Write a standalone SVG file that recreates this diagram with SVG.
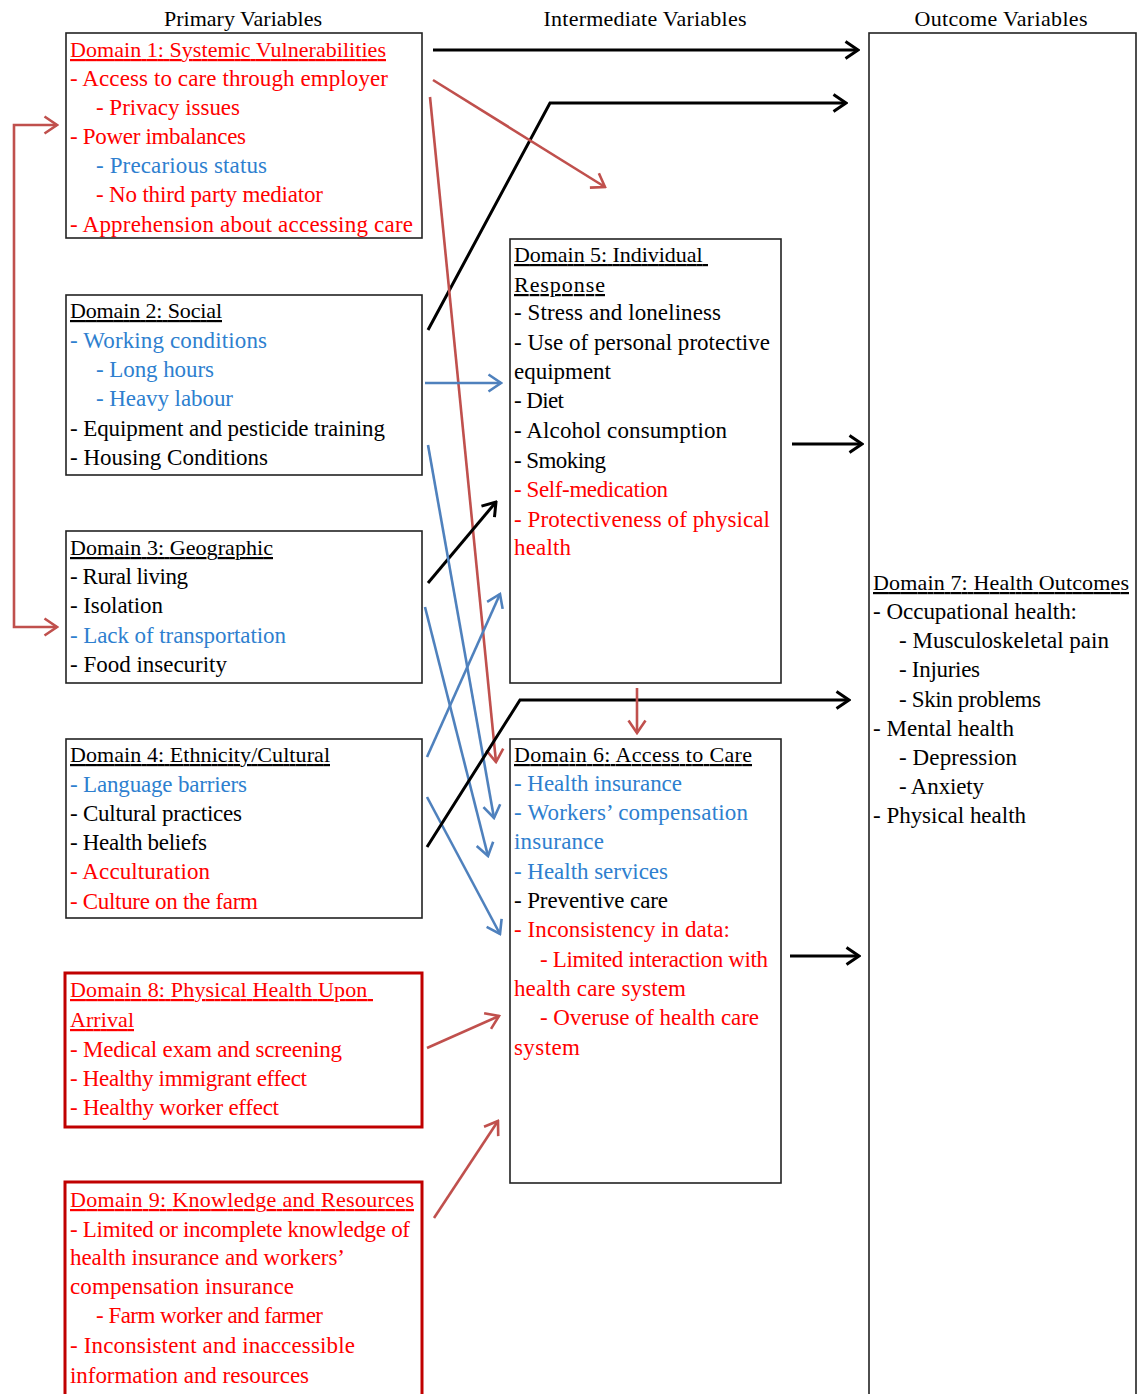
<svg xmlns="http://www.w3.org/2000/svg" width="1141" height="1394" viewBox="0 0 1141 1394">
<style>
text{font-family:"Liberation Serif","Times New Roman",serif;font-size:23px;fill:#000;white-space:pre}
.h{font-size:22px;text-anchor:middle}
.r{fill:#ff0000}
.b{fill:#2e7fcf}
.u{text-decoration:underline;font-size:22px}
.box{fill:#fff;stroke:#222;stroke-width:1.6}
.rbox{fill:#fff;stroke:#c00000;stroke-width:3}
.ck{fill:none;stroke:#000;stroke-width:3}
.cr{fill:none;stroke:#c0504d;stroke-width:2.6}
.cb{fill:none;stroke:#4f81bd;stroke-width:2.6}
</style>
<defs>
<marker id="ak" viewBox="0 0 16 20" markerWidth="16" markerHeight="20" refX="14" refY="10" orient="auto" markerUnits="userSpaceOnUse"><path d="M1.5,1.5 L14,10 L1.5,18.5" fill="none" stroke="#000" stroke-width="3"/></marker>
<marker id="ar" viewBox="0 0 16 20" markerWidth="16" markerHeight="20" refX="14" refY="10" orient="auto" markerUnits="userSpaceOnUse"><path d="M1.5,1.5 L14,10 L1.5,18.5" fill="none" stroke="#c0504d" stroke-width="2.6"/></marker>
<marker id="ab" viewBox="0 0 16 20" markerWidth="16" markerHeight="20" refX="14" refY="10" orient="auto" markerUnits="userSpaceOnUse"><path d="M1.5,1.5 L14,10 L1.5,18.5" fill="none" stroke="#4f81bd" stroke-width="2.6"/></marker>
</defs>
<rect width="1141" height="1394" fill="#fff"/>

<g id="headers">
<text class="h" x="243" y="26" textLength="158" lengthAdjust="spacing">Primary Variables</text>
<text class="h" x="645" y="26" textLength="203" lengthAdjust="spacing">Intermediate Variables</text>
<text class="h" x="1001" y="26" textLength="173" lengthAdjust="spacing">Outcome Variables</text>
</g>

<g id="domain1">
<rect class="box" x="66" y="33" width="356" height="205"/>
<text class="r u" x="70" y="57" textLength="316" lengthAdjust="spacing">Domain 1: Systemic Vulnerabilities</text>
<text class="r" x="70" y="86" textLength="318" lengthAdjust="spacing">- Access to care through employer</text>
<text class="r" x="96" y="115" textLength="144" lengthAdjust="spacing">- Privacy issues</text>
<text class="r" x="70" y="144" textLength="176" lengthAdjust="spacing">- Power imbalances</text>
<text class="b" x="96" y="173" textLength="171" lengthAdjust="spacing">- Precarious status</text>
<text class="r" x="96" y="202" textLength="227" lengthAdjust="spacing">- No third party mediator</text>
<text class="r" x="70" y="232" textLength="343" lengthAdjust="spacing">- Apprehension about accessing care</text>
</g>

<g id="domain2">
<rect class="box" x="66" y="295" width="356" height="180"/>
<text class="u" x="70" y="318" textLength="152" lengthAdjust="spacing">Domain 2: Social</text>
<text class="b" x="70" y="348" textLength="197" lengthAdjust="spacing">- Working conditions</text>
<text class="b" x="96" y="377" textLength="118" lengthAdjust="spacing">- Long hours</text>
<text class="b" x="96" y="406" textLength="137" lengthAdjust="spacing">- Heavy labour</text>
<text x="70" y="436" textLength="315" lengthAdjust="spacing">- Equipment and pesticide training</text>
<text x="70" y="465" textLength="198" lengthAdjust="spacing">- Housing Conditions</text>
</g>

<g id="domain3">
<rect class="box" x="66" y="531" width="356" height="152"/>
<text class="u" x="70" y="555" textLength="203" lengthAdjust="spacing">Domain 3: Geographic</text>
<text x="70" y="584" textLength="118" lengthAdjust="spacing">- Rural living</text>
<text x="70" y="613" textLength="93" lengthAdjust="spacing">- Isolation</text>
<text class="b" x="70" y="643" textLength="216" lengthAdjust="spacing">- Lack of transportation</text>
<text x="70" y="672" textLength="157" lengthAdjust="spacing">- Food insecurity</text>
</g>

<g id="domain4">
<rect class="box" x="66" y="739" width="356" height="179"/>
<text class="u" x="70" y="762" textLength="260" lengthAdjust="spacing">Domain 4: Ethnicity/Cultural</text>
<text class="b" x="70" y="792" textLength="177" lengthAdjust="spacing">- Language barriers</text>
<text x="70" y="821" textLength="172" lengthAdjust="spacing">- Cultural practices</text>
<text x="70" y="850" textLength="137" lengthAdjust="spacing">- Health beliefs</text>
<text class="r" x="70" y="879" textLength="140" lengthAdjust="spacing">- Acculturation</text>
<text class="r" x="70" y="909" textLength="188" lengthAdjust="spacing">- Culture on the farm</text>
</g>

<g id="domain8">
<rect class="rbox" x="65" y="973" width="357" height="154"/>
<text class="r u" x="70" y="997" textLength="303" lengthAdjust="spacing">Domain 8: Physical Health Upon </text>
<text class="r u" x="70" y="1027" textLength="64" lengthAdjust="spacing">Arrival</text>
<text class="r" x="70" y="1057" textLength="272" lengthAdjust="spacing">- Medical exam and screening</text>
<text class="r" x="70" y="1086" textLength="237" lengthAdjust="spacing">- Healthy immigrant effect</text>
<text class="r" x="70" y="1115" textLength="209" lengthAdjust="spacing">- Healthy worker effect</text>
</g>

<g id="domain9">
<rect class="rbox" x="65" y="1182" width="357" height="230"/>
<text class="r u" x="70" y="1207" textLength="344" lengthAdjust="spacing">Domain 9: Knowledge and Resources</text>
<text class="r" x="70" y="1237" textLength="340" lengthAdjust="spacing">- Limited or incomplete knowledge of</text>
<text class="r" x="70" y="1265" textLength="275" lengthAdjust="spacing">health insurance and workers’</text>
<text class="r" x="70" y="1294" textLength="224" lengthAdjust="spacing">compensation insurance</text>
<text class="r" x="96" y="1323" textLength="227" lengthAdjust="spacing">- Farm worker and farmer</text>
<text class="r" x="70" y="1353" textLength="285" lengthAdjust="spacing">- Inconsistent and inaccessible</text>
<text class="r" x="70" y="1383" textLength="239" lengthAdjust="spacing">information and resources</text>
</g>

<g id="domain5">
<rect class="box" x="510" y="239" width="271" height="444"/>
<text class="u" x="514" y="262" textLength="194" lengthAdjust="spacing">Domain 5: Individual </text>
<text class="u" x="514" y="292" textLength="91" lengthAdjust="spacing">Response</text>
<text x="514" y="320" textLength="207" lengthAdjust="spacing">- Stress and loneliness</text>
<text x="514" y="350" textLength="256" lengthAdjust="spacing">- Use of personal protective</text>
<text x="514" y="379" textLength="97" lengthAdjust="spacing">equipment</text>
<text x="514" y="408" textLength="50" lengthAdjust="spacing">- Diet</text>
<text x="514" y="438" textLength="213" lengthAdjust="spacing">- Alcohol consumption</text>
<text x="514" y="468" textLength="92" lengthAdjust="spacing">- Smoking</text>
<text class="r" x="514" y="497" textLength="154" lengthAdjust="spacing">- Self-medication</text>
<text class="r" x="514" y="527" textLength="256" lengthAdjust="spacing">- Protectiveness of physical</text>
<text class="r" x="514" y="555" textLength="57" lengthAdjust="spacing">health</text>
</g>

<g id="domain6">
<rect class="box" x="510" y="739" width="271" height="444"/>
<text class="u" x="514" y="762" textLength="238" lengthAdjust="spacing">Domain 6: Access to Care</text>
<text class="b" x="514" y="791" textLength="168" lengthAdjust="spacing">- Health insurance</text>
<text class="b" x="514" y="820" textLength="234" lengthAdjust="spacing">- Workers’ compensation</text>
<text class="b" x="514" y="849" textLength="90" lengthAdjust="spacing">insurance</text>
<text class="b" x="514" y="879" textLength="154" lengthAdjust="spacing">- Health services</text>
<text x="514" y="908" textLength="154" lengthAdjust="spacing">- Preventive care</text>
<text class="r" x="514" y="937" textLength="216" lengthAdjust="spacing">- Inconsistency in data:</text>
<text class="r" x="540" y="967" textLength="228" lengthAdjust="spacing">- Limited interaction with</text>
<text class="r" x="514" y="996" textLength="172" lengthAdjust="spacing">health care system</text>
<text class="r" x="540" y="1025" textLength="219" lengthAdjust="spacing">- Overuse of health care</text>
<text class="r" x="514" y="1055" textLength="66" lengthAdjust="spacing">system</text>
</g>

<g id="domain7">
<rect class="box" x="869" y="33" width="267" height="1380"/>
<text class="u" x="873" y="590" textLength="256" lengthAdjust="spacing">Domain 7: Health Outcomes</text>
<text x="873" y="619" textLength="204" lengthAdjust="spacing">- Occupational health:</text>
<text x="899" y="648" textLength="210" lengthAdjust="spacing">- Musculoskeletal pain</text>
<text x="899" y="677" textLength="81" lengthAdjust="spacing">- Injuries</text>
<text x="899" y="707" textLength="142" lengthAdjust="spacing">- Skin problems</text>
<text x="873" y="736" textLength="141" lengthAdjust="spacing">- Mental health</text>
<text x="899" y="765" textLength="118" lengthAdjust="spacing">- Depression</text>
<text x="899" y="794" textLength="85" lengthAdjust="spacing">- Anxiety</text>
<text x="873" y="823" textLength="153" lengthAdjust="spacing">- Physical health</text>
</g>

<g id="connectors">
<path class="ck" d="M433,50 H858" marker-end="url(#ak)"/>
<path class="ck" d="M428,330 L550,103 H846" marker-end="url(#ak)"/>
<path class="cr" d="M433,80 L605,187" marker-end="url(#ar)"/>
<path class="cr" d="M430,97 L496,762" marker-end="url(#ar)"/>
<path class="cr" d="M14,376 V125 H57" marker-end="url(#ar)"/>
<path class="cr" d="M14,376 V627 H57" marker-end="url(#ar)"/>
<path class="cb" d="M425,383 H501" marker-end="url(#ab)"/>
<path class="ck" d="M428,583 L496,502" marker-end="url(#ak)"/>
<path class="cb" d="M428,445 L494,818" marker-end="url(#ab)"/>
<path class="cb" d="M425,607 L488,856" marker-end="url(#ab)"/>
<path class="cb" d="M427,757 L500,594" marker-end="url(#ab)"/>
<path class="cb" d="M427,797 L500,934" marker-end="url(#ab)"/>
<path class="ck" d="M427,847 L520,700 H849" marker-end="url(#ak)"/>
<path class="cr" d="M637,688 V733" marker-end="url(#ar)"/>
<path class="ck" d="M792,444 H862" marker-end="url(#ak)"/>
<path class="ck" d="M790,956 H859" marker-end="url(#ak)"/>
<path class="cr" d="M427,1048 L499,1016" marker-end="url(#ar)"/>
<path class="cr" d="M434,1218 L498,1121" marker-end="url(#ar)"/>
</g>
</svg>
